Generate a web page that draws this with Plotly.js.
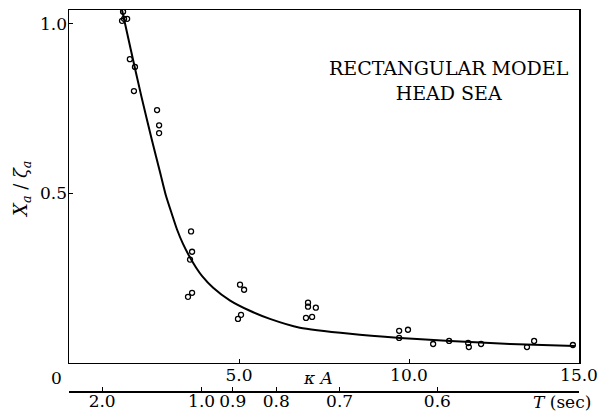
<!DOCTYPE html>
<html>
<head>
<meta charset="utf-8">
<script src="https://cdn.plot.ly/plotly-3.0.1.min.js"></script>
<style>
html,body{margin:0;padding:0;background:#fff;}
#chart{width:603px;height:412px;}
</style>
</head>
<body>
<div id="chart"></div>
<script>
// Measured points (kappa*A, Xa/zeta_a)
const expKA = [1.59, 1.62, 1.71, 1.56, 1.79, 1.94, 1.91, 2.59, 2.65, 2.65,
  3.59, 3.62, 3.56, 3.62, 3.50, 5.03, 5.15, 4.97, 5.06,
  7.03, 7.03, 7.26, 6.97, 7.15, 9.71, 9.97, 9.71,
  10.71, 11.18, 11.74, 11.76, 12.12, 13.47, 13.68, 14.82];
const expX = [1.036, 1.015, 1.015, 1.009, 0.896, 0.873, 0.802, 0.746, 0.701, 0.678,
  0.388, 0.328, 0.305, 0.207, 0.195, 0.231, 0.216, 0.130, 0.142,
  0.178, 0.166, 0.163, 0.133, 0.136, 0.095, 0.098, 0.074,
  0.056, 0.065, 0.059, 0.047, 0.056, 0.047, 0.065, 0.053];
// Calculated curve
const curveKA = [1.56, 1.82, 2.12, 2.44, 2.68, 2.85, 3.03, 3.18, 3.35, 3.56, 3.74, 3.91, 4.24, 4.74, 5.32, 5.91, 6.79, 8.27, 9.74, 11.21, 12.97, 14.88];
const curveX  = [1.041, 0.923, 0.790, 0.657, 0.562, 0.494, 0.438, 0.393, 0.352, 0.311, 0.281, 0.257, 0.222, 0.184, 0.154, 0.130, 0.104, 0.086, 0.074, 0.065, 0.056, 0.050];
// Period axis
const periodT = [2.0, 1.0, 0.9, 0.8, 0.7, 0.6];
const periodLabels = ["2.0", "1.0", "0.9", "0.8", "0.7", "0.6"];
const kAperInvT2 = 3.9;
// Axis ticks
const xTicks = [5, 10, 15];
const xTickLabels = ["5.0", "10.0", "15.0"];
const yTicks = [0.5, 1.0];
const yTickLabels = ["0.5", "1.0"];

const F = "DejaVu Serif";
const traces = [
  {x: curveKA, y: curveX, mode: 'lines', line: {color: '#000', width: 2, shape: 'spline', smoothing: 0.6},
   hoverinfo: 'skip', showlegend: false},
  {x: expKA, y: expX, mode: 'markers', marker: {symbol: 'circle-open', size: 5, color: '#000', line: {width: 1.3, color: '#000'}},
   showlegend: false},
  {x: [], y: [], xaxis: 'x2', yaxis: 'y', mode: 'markers', showlegend: false, hoverinfo: 'skip'}
];
const layout = {
  width: 603, height: 412,
  margin: {l: 69, r: 24, t: 10, b: 21},
  paper_bgcolor: '#fff', plot_bgcolor: '#fff',
  font: {family: F, size: 17, color: '#000'},
  showlegend: false,
  xaxis: {range: [0, 15], showgrid: false, zeroline: false, showline: true, mirror: true,
    linecolor: '#000', linewidth: 1.5, ticks: 'inside', ticklen: 4, tickcolor: '#000', tickwidth: 1,
    tickvals: xTicks, ticktext: xTickLabels, tickfont: {family: F, size: 17}, anchor: 'y', ticklabelstandoff: -4},
  yaxis: {range: [0, 1.041], domain: [0.0735, 1], showgrid: false, zeroline: false, showline: true, mirror: true,
    linecolor: '#000', linewidth: 1.5, ticks: 'inside', ticklen: 4, tickcolor: '#000', tickwidth: 1,
    tickvals: yTicks, ticktext: yTickLabels, tickfont: {family: F, size: 17}, ticklabelstandoff: -3},
  xaxis2: {range: [0, 15], overlaying: 'x', anchor: 'free', position: 0, side: 'bottom',
    showgrid: false, zeroline: false, showline: true, linecolor: '#000', linewidth: 1.5,
    ticks: 'inside', ticklen: 4, tickcolor: '#000', tickwidth: 1, ticklabelstandoff: -6,
    tickvals: periodT.map(t => kAperInvT2 / (t * t)), ticktext: periodLabels, tickfont: {family: F, size: 17}},
  annotations: [
    {xref: 'x', yref: 'paper', x: 0, y: 0.034, xanchor: 'right', yanchor: 'middle', xshift: -5,
     text: '0', showarrow: false, font: {family: F, size: 17}},
    {xref: 'x', yref: 'paper', x: 7.32, y: 0.034, xanchor: 'center', yanchor: 'middle',
     text: '<i>κ A</i>', showarrow: false, font: {family: F, size: 17}},
    {xref: 'x', yref: 'paper', x: 14.5, y: -0.03, xanchor: 'center', yanchor: 'middle',
     text: '<i>T</i> (sec)', showarrow: false, font: {family: F, size: 17}},
    {xref: 'paper', yref: 'paper', x: -0.092, y: 0.528, xanchor: 'center', yanchor: 'middle', textangle: -90,
     text: '<i>X<sub>a</sub></i> / <i>ζ<sub>a</sub></i>', showarrow: false, font: {family: F, size: 18}},
    {xref: 'x', yref: 'y', x: 11.18, y: 0.832, xanchor: 'center', yanchor: 'middle',
     text: 'RECTANGULAR MODEL<br>HEAD SEA', showarrow: false, font: {family: F, size: 19}}
  ]
};
Plotly.newPlot('chart', traces, layout, {displayModeBar: false, staticPlot: true});
</script>
</body>
</html>
